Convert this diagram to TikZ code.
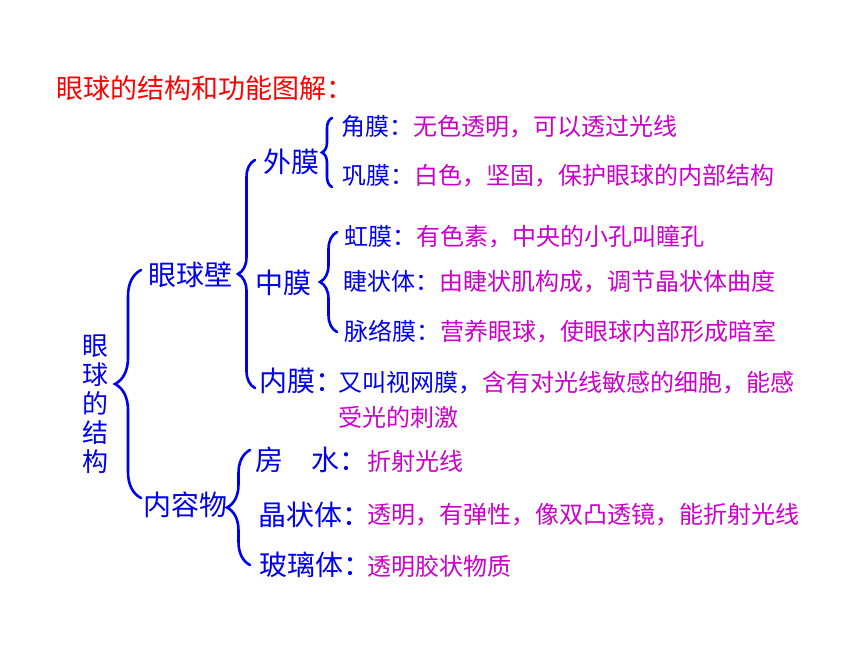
\documentclass[tikz,border=0pt]{standalone}
\usepackage{fontspec}
\setmainfont{Noto Sans CJK SC}
\usetikzlibrary{decorations.pathreplacing}
\definecolor{eyered}{RGB}{255,0,0}
\definecolor{eyeblue}{RGB}{0,0,240}
\definecolor{eyepink}{RGB}{204,0,204}
\newcommand\bl[1]{\textcolor{eyeblue}{#1}}
\tikzset{
  ttl/.style={anchor=west, inner sep=0pt, text=eyered, font=\fontsize{27}{30}\selectfont},
  lab/.style={anchor=west, inner sep=0pt, text=eyeblue, font=\fontsize{28}{30}\selectfont},
  desc/.style={anchor=west, inner sep=0pt, text=eyepink, font=\fontsize{24}{26}\selectfont},
  brc/.style={draw=eyeblue, line width=2.6pt, decorate, decoration={brace, amplitude=#1}},
}
\begin{document}
\begin{tikzpicture}[x=1pt, y=-1pt]
      \useasboundingbox (0,0) rectangle (860,645);
      \draw
        (56,88) node[ttl] (title){眼球的结构和功能图解：}
        (95,404) node[lab, anchor=center, align=center, font=\fontsize{26}{29}\selectfont] (eye){眼\\球\\的\\结\\构}
        (148,275) node[lab] (wall){眼球壁}
        (143,505) node[lab] (cont){内容物}
        (263,162) node[lab] (outer){外膜}
        (255,283) node[lab] (middle){中膜}
        (259,381) node[lab] (inner){内膜：}
        (255,460) node[lab] (aqua){房　水：}
        (258,515) node[lab] (lens){晶状体：}
        (259,565) node[lab] (vitr){玻璃体：}
        (341,127) node[desc] (cornea){\bl{角膜：}无色透明，可以透过光线}
        (342,176) node[desc] (sclera){\bl{巩膜：}白色，坚固，保护眼球的内部结构}
        (344,237) node[desc] (iris){\bl{虹膜：}有色素，中央的小孔叫瞳孔}
        (343,282) node[desc] (ciliary){\bl{睫状体：}由睫状肌构成，调节晶状体曲度}
        (344,332) node[desc] (choroid){\bl{脉络膜：}营养眼球，使眼球内部形成暗室}
        (338,383) node[desc] (retina){\bl{又叫视网膜，}含有对光线敏感的细胞，能感}
        (338,417) node[desc] (retina2){受光的刺激}
        (367,461) node[desc] (aquad){折射光线}
        (367,515) node[desc] (lensd){透明，有弹性，像双凸透镜，能折射光线}
        (367,566) node[desc] (vitrd){透明胶状物质};
      \begin{scope}[line cap=round]
        \draw[brc=26] (141,498) -- (141,270);
        \draw[brc=17] (255,388) -- (255,160);
        \draw[brc=10] (332,187) -- (332,118);
        \draw[brc=17] (337,332) -- (337,232);
        \draw[brc=23] (250,565) -- (250,450);
      \end{scope}
    \end{tikzpicture}
\end{document}
